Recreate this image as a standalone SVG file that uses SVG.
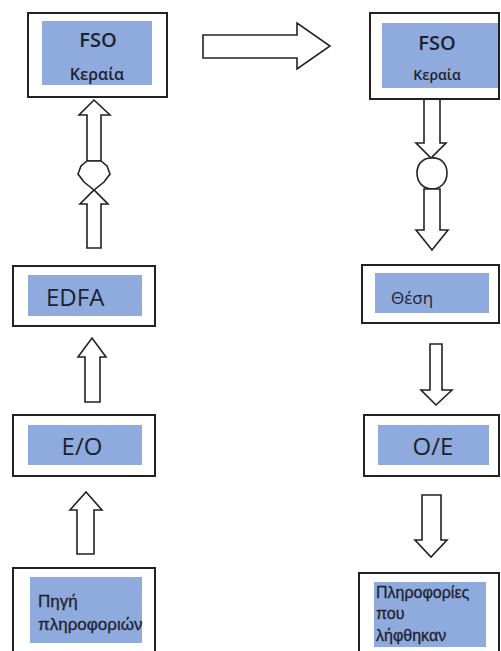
<svg xmlns="http://www.w3.org/2000/svg" width="501" height="651" viewBox="0 0 501 651">
<style>
.box{fill:#fff;stroke:#222;stroke-width:2}
.blue{fill:#8faadc}
.arr{fill:#fff;stroke:#222;stroke-width:1.6;stroke-linejoin:miter}
.c{font-family:"Open Sans","Noto Sans",sans-serif;fill:#1e2230}
.a{font-family:"Liberation Sans",Arial,sans-serif;fill:#1e2230;stroke:#1e2230;stroke-width:0.3}
</style>
<rect width="501" height="651" fill="#fff"/>
<g id="connectors">
<path class="arr" d="M203,35 L297,35 L297,23 L330,46 L297,69 L297,58 L203,58 Z"/>
<path class="arr" d="M87,161 L87,115 L79,115 L94,100 L110,115 L101,115 L101,161 Z"/>
<path class="arr" d="M87,161 L101,161 L107,166 L110,174 L104,182 L94,190 L84,182 L78,174 L81,166 Z"/>
<path class="arr" d="M87,248 L87,204 L80,204 L94,190 L108,204 L101,204 L101,248 Z"/>
<path class="arr" d="M85,402 L85,357 L78,357 L92,338 L106,357 L100,357 L100,402 Z"/>
<path class="arr" d="M77,554 L77,510 L70,510 L86,492 L102,510 L94,510 L94,554 Z"/>
<path class="arr" d="M424,99 L440,99 L440,143 L446,143 L431,158 L416,143 L424,143 Z"/>
<path class="arr" d="M431,158 C440,157 447,163 447,173 C447,183 440,189 432,189 C423,189 417,182 417,173 C417,164 423,158 431,158 Z"/>
<path class="arr" d="M424,189 L440,189 L440,230 L448,230 L432,250 L416,230 L424,230 Z"/>
<path class="arr" d="M430,344 L442,344 L442,390 L452,390 L436,405 L421,390 L430,390 Z"/>
<path class="arr" d="M422,495 L441,495 L441,540 L447,540 L431,557 L415,540 L422,540 Z"/>
</g>
<g id="fso-tx">
<rect class="box" x="28" y="13" width="139" height="84"/>
<rect class="blue" x="42" y="21" width="110" height="64"/>
<text class="c" x="98" y="47" font-size="20" font-weight="600" text-anchor="middle">FSO</text>
<text class="c" x="97" y="80" font-size="16" font-weight="600" text-anchor="middle">Κεραία</text>
</g>
<g id="edfa">
<rect class="box" x="13" y="266" width="142" height="60"/>
<rect class="blue" x="28" y="275" width="114" height="41"/>
<text class="c" x="46" y="306" font-size="24">EDFA</text>
</g>
<g id="eo">
<rect class="box" x="13" y="415" width="142" height="61"/>
<rect class="blue" x="28" y="425" width="114" height="40"/>
<text class="c" x="82" y="455" font-size="24" text-anchor="middle">E/O</text>
</g>
<g id="source">
<rect class="box" x="13" y="568" width="142" height="90"/>
<rect class="blue" x="30" y="577" width="112" height="66"/>
<text class="a" x="38" y="607" font-size="17">Πηγή</text>
<text class="a" x="38" y="630" font-size="17">πληροφοριών</text>
</g>
<g id="fso-rx">
<rect class="box" x="370" y="13" width="129" height="86"/>
<rect class="blue" x="382" y="23" width="116" height="65"/>
<text class="c" x="437" y="50" font-size="20" font-weight="600" text-anchor="middle">FSO</text>
<text class="c" x="437" y="80" font-size="14" font-weight="600" text-anchor="middle">Κεραία</text>
</g>
<g id="position">
<rect class="box" x="362" y="265" width="137" height="58"/>
<rect class="blue" x="375" y="273" width="114" height="40"/>
<text class="c" x="391" y="304" font-size="17">Θέση</text>
</g>
<g id="oe">
<rect class="box" x="364" y="415" width="135" height="61"/>
<rect class="blue" x="378" y="425" width="111" height="40"/>
<text class="c" x="433" y="455" font-size="24" text-anchor="middle">O/E</text>
</g>
<g id="received">
<rect class="box" x="359" y="573" width="140" height="90"/>
<rect class="blue" x="374" y="582" width="112" height="65"/>
<text class="a" x="376" y="598" font-size="16">Πληροφορίες</text>
<text class="a" x="376" y="619" font-size="16">που</text>
<text class="a" x="376" y="641" font-size="16">λήφθηκαν</text>
</g>
</svg>
